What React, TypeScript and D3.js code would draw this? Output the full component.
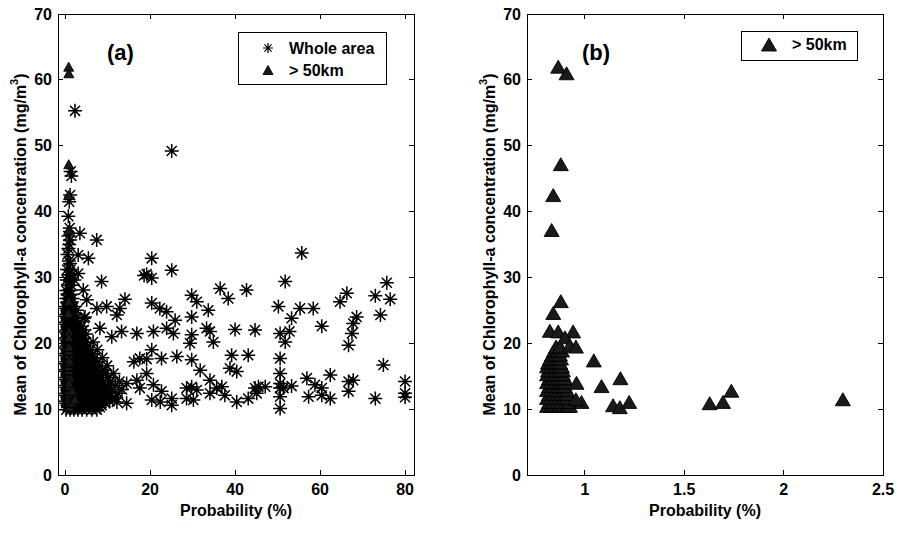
import React from 'react';
import * as d3 from 'd3';

const W = 898;
const H = 534;

// y axis (both panels)
const yTicks = [0, 10, 20, 30, 40, 50, 60, 70];
// panel (a) x axis
const xTicksA = [0, 20, 40, 60, 80];
const xTickLabelsA = ['0', '20', '40', '60', '80'];
// panel (b) x axis
const xTicksB = [1, 1.5, 2, 2.5];
const xTickLabelsB = ['1', '1.5', '2', '2.5'];

// ">50km" points (isolated)
const farX = [0.866, 0.908, 0.879, 0.841, 0.833, 0.879, 0.841, 0.824, 0.866, 0.941, 0.9, 0.925, 0.955, 1.045, 1.179, 1.084, 0.958, 0.983, 0.955, 1.142, 1.176, 1.223, 1.628, 1.695, 1.737, 2.298];
const farY = [62.0, 61.0, 47.2, 42.5, 37.2, 26.4, 24.6, 21.9, 21.8, 21.8, 20.9, 19.7, 19.5, 17.4, 14.7, 13.5, 14.0, 11.1, 11.5, 10.6, 10.3, 11.1, 10.9, 11.1, 12.8, 11.5];
// ">50km" dense cluster, rows of [y, x values]
const farClusterRows: [number, number[]][] = [
  [10.5, [0.81, 0.83, 0.85, 0.87, 0.89, 0.91, 0.925]],
  [11.1, [0.82, 0.84, 0.86, 0.88, 0.9, 0.92]],
  [11.7, [0.81, 0.83, 0.85, 0.87, 0.89, 0.91]],
  [12.3, [0.82, 0.84, 0.86, 0.88, 0.9, 0.915]],
  [12.9, [0.81, 0.83, 0.85, 0.87, 0.89, 0.91]],
  [13.5, [0.82, 0.84, 0.86, 0.88, 0.9]],
  [14.1, [0.81, 0.83, 0.85, 0.87, 0.89, 0.905]],
  [14.7, [0.82, 0.84, 0.86, 0.88, 0.9]],
  [15.3, [0.81, 0.83, 0.85, 0.87, 0.89]],
  [15.9, [0.815, 0.835, 0.855, 0.875, 0.89]],
  [16.5, [0.81, 0.83, 0.85, 0.87, 0.885]],
  [17.1, [0.815, 0.835, 0.855, 0.875]],
  [17.7, [0.825, 0.845, 0.865, 0.88]],
  [18.3, [0.835, 0.855, 0.875]],
  [18.9, [0.845, 0.865, 0.885]],
  [19.5, [0.855, 0.875]],
];

// "Whole area" isolated points [x, y]
const wholeScatter: [number, number][] = [
  [2.35, 55.3], [25.1, 49.2], [1.33, 46.1], [1.5, 45.4], [0.78, 39.3], [3.5, 36.7], [7.45, 35.7], [1.2, 35.7],
  [0.8, 34.4], [3.1, 33.4], [5.5, 32.9], [1.2, 32.1], [8.6, 29.4], [3.1, 30.6], [20.4, 32.9], [25.1, 31.1],
  [19.2, 30.5], [20.4, 29.9], [18.6, 30.3], [55.7, 33.7], [51.8, 29.4], [75.7, 29.2], [76.5, 26.7], [73.0, 27.2],
  [74.2, 24.3], [66.3, 27.6], [64.7, 26.3], [68.6, 24.0], [67.8, 23.0], [67.5, 21.5], [66.7, 19.7], [60.4, 22.6],
  [58.4, 25.3], [55.3, 25.3], [53.3, 23.8], [50.2, 25.6], [50.6, 21.5], [52.8, 21.8], [51.8, 20.2], [42.7, 28.1],
  [38.4, 26.8], [36.5, 28.3], [29.8, 27.3], [31.0, 26.3], [29.8, 24.0], [33.7, 25.0], [33.3, 22.3], [34.1, 21.8],
  [34.9, 20.2], [29.8, 21.3], [29.4, 20.0], [40.0, 22.1], [44.7, 22.0], [20.4, 26.1], [22.3, 25.3], [23.9, 24.8],
  [25.9, 23.5], [23.9, 22.3], [25.5, 21.5], [20.8, 21.8], [16.9, 21.5], [14.1, 26.7], [12.9, 25.3], [12.2, 24.3],
  [9.8, 25.6], [7.5, 25.3], [4.3, 28.1], [5.1, 26.6], [4.7, 24.0], [8.2, 22.3], [13.3, 21.8], [11.0, 21.0],
  [20.4, 19.0], [26.3, 18.0], [22.7, 17.7], [19.2, 17.6], [17.6, 17.7], [16.2, 17.2], [29.8, 17.5], [31.8, 15.9],
  [39.2, 18.2], [43.1, 18.2], [38.8, 16.2], [40.4, 15.7], [50.6, 17.7], [50.6, 15.4], [74.9, 16.7], [80.0, 14.2],
  [80.0, 12.4], [80.0, 11.8], [73.0, 11.6], [62.4, 15.2], [62.4, 11.6], [56.9, 14.7], [57.3, 11.9], [58.8, 13.7],
  [60.4, 13.2], [60.4, 12.1], [53.3, 13.5], [66.7, 14.2], [67.8, 14.4], [66.7, 12.7], [50.6, 13.9], [50.6, 13.2],
  [51.4, 13.2], [50.6, 11.9], [50.6, 10.1], [44.7, 13.2], [45.5, 13.4], [47.1, 13.4], [45.1, 12.4], [43.1, 11.6],
  [40.4, 11.1], [37.6, 12.1], [36.9, 13.4], [35.7, 13.2], [34.1, 14.4], [34.1, 12.4], [29.8, 13.4], [28.6, 13.2],
  [28.6, 11.6], [30.2, 11.4], [31.0, 12.9], [25.1, 11.6], [25.1, 10.6], [22.4, 11.1], [22.7, 12.7], [20.4, 11.4],
  [20.8, 13.7], [17.6, 13.2], [16.9, 14.4], [14.5, 10.9], [12.2, 11.1], [19.2, 15.4], [14.5, 13.9],
];

// "Whole area" dense cluster near the y axis, rows of [y, x values]
const wholeClusterRows: [number, number[]][] = [
  [9.9, [0.3, 1.2, 2.1, 3.0, 4.0, 5.1, 6.3, 7.5]],
  [10.3, [0.7, 1.6, 2.5, 3.5, 4.5, 5.6, 6.8, 8.2]],
  [10.6, [0.6, 1.6, 2.6, 3.5, 4.6, 5.8, 7.2, 8.6]],
  [10.9, [0.3, 1.2, 2.2, 3.1, 4.1, 5.2, 6.4, 7.8, 9.5]],
  [11.2, [0.2, 1.0, 2.0, 2.9, 3.9, 4.9, 6.0, 7.4, 9.1, 10.5]],
  [11.5, [0.7, 1.6, 2.5, 3.5, 4.5, 5.5, 6.8, 8.4, 11.2]],
  [11.8, [0.5, 1.4, 2.4, 3.3, 4.3, 5.4, 6.6, 8.0, 9.7, 11.8]],
  [12.1, [0.2, 1.1, 1.9, 2.8, 3.8, 4.8, 5.9, 7.3, 8.9]],
  [12.4, [0.3, 1.1, 2.0, 2.8, 3.8, 4.8, 5.9, 7.1, 8.6, 10.2, 12.5]],
  [12.7, [0.7, 1.6, 2.5, 3.4, 4.4, 5.5, 6.8, 8.2, 9.7]],
  [13.0, [0.6, 1.5, 2.4, 3.3, 4.3, 5.3, 6.5, 7.8, 9.3, 11.0, 13.4]],
  [13.3, [0.3, 1.1, 2.0, 2.9, 3.9, 4.9, 6.1, 7.4]],
  [13.6, [0.2, 1.0, 1.9, 2.8, 3.7, 4.7, 5.8, 7.0, 8.4, 10.0, 11.8]],
  [13.9, [0.7, 1.6, 2.5, 3.5, 4.5, 5.5, 6.7, 8.0]],
  [14.2, [0.5, 1.4, 2.3, 3.2, 4.2, 5.2, 6.3, 7.6, 9.0, 10.6, 12.8]],
  [14.5, [0.2, 1.0, 1.9, 2.8, 3.8, 4.8, 6.0, 7.3]],
  [14.8, [0.3, 1.1, 2.0, 2.9, 3.8, 4.8, 5.9, 7.1, 8.5, 10.1]],
  [15.1, [0.7, 1.6, 2.5, 3.5, 4.5, 5.6, 6.9]],
  [15.4, [0.6, 1.5, 2.4, 3.3, 4.3, 5.4, 6.6, 8.0, 9.6, 11.4]],
  [15.7, [0.2, 1.1, 2.0, 2.9, 3.9, 5.0, 6.2]],
  [16.0, [0.2, 1.0, 1.9, 2.8, 3.7, 4.7, 5.8, 7.2, 8.8]],
  [16.3, [0.7, 1.6, 2.5, 3.5, 4.5, 5.6]],
  [16.6, [0.5, 1.4, 2.3, 3.2, 4.2, 5.3, 6.6, 8.1, 9.9]],
  [16.9, [0.2, 1.0, 1.9, 2.8, 3.8, 4.8, 6.0]],
  [17.2, [0.3, 1.1, 2.0, 2.9, 3.9, 5.0, 6.2, 7.6]],
  [17.5, [0.7, 1.6, 2.5, 3.5, 4.6]],
  [17.8, [0.6, 1.5, 2.4, 3.4, 4.5, 5.7, 7.0, 8.8]],
  [18.1, [0.3, 1.1, 2.0, 3.0, 4.0, 5.3]],
  [18.4, [0.2, 1.0, 1.9, 2.8, 3.9, 5.1, 6.5]],
  [18.7, [0.7, 1.6, 2.6, 3.6, 4.8]],
  [19.0, [0.5, 1.4, 2.4, 3.4, 4.5, 5.9, 7.6]],
  [19.3, [0.2, 1.0, 1.9, 2.9, 4.0]],
  [19.6, [0.3, 1.1, 2.0, 3.0, 4.1, 5.4]],
  [19.9, [0.7, 1.6, 2.5, 3.5]],
  [20.2, [0.6, 1.5, 2.5, 3.6, 4.8, 6.6]],
  [20.5, [0.3, 1.1, 2.1, 3.1]],
  [20.8, [0.2, 1.0, 1.9, 2.9, 4.2]],
  [21.1, [0.7, 1.6, 2.6]],
  [21.4, [0.5, 1.4, 2.4, 3.5, 5.0]],
  [21.7, [0.2, 1.0, 1.9, 2.9]],
  [22.0, [0.3, 1.1, 2.0, 3.1, 4.4]],
  [22.3, [0.7, 1.6, 2.5]],
  [22.6, [0.6, 1.5, 2.6, 3.9]],
  [22.9, [0.3, 1.1, 2.1]],
  [23.2, [0.2, 1.0, 2.0, 3.2]],
  [23.5, [0.7, 1.6]],
  [23.8, [0.5, 1.4, 2.5, 4.5]],
  [24.1, [0.2, 1.0, 1.8]],
  [24.4, [0.3, 1.1, 2.1]],
  [24.7, [0.7, 1.5]],
  [25.0, [0.6, 1.5, 2.8]],
  [25.3, [0.3, 1.1]],
  [25.6, [0.2, 1.0, 2.0]],
  [26.2, [0.5, 1.3]],
  [26.8, [0.3, 1.0, 1.8]],
  [27.4, [0.6, 1.4]],
  [28.0, [0.3, 1.1]],
  [28.8, [0.7, 1.5]],
  [29.6, [0.4, 1.2, 2.2]],
  [30.4, [0.8, 1.6]],
  [31.2, [0.5, 1.3]],
  [32.5, [0.9]],
  [33.5, [0.6]],
  [35.0, [1.0]],
  [36.3, [0.8]],
  [37.5, [1.1]],
  [41.5, [1.0]],
  [42.5, [1.2]],
];

const FONT = '"Liberation Sans", Arial, Helvetica, sans-serif';

const rowsToPoints = (rows: [number, number[]][]) =>
  rows.flatMap(([yy, xs]) => xs.map((xx) => [xx, yy] as [number, number]));

const wholePoints: [number, number][] = [...rowsToPoints(wholeClusterRows), ...wholeScatter];
const farPoints: [number, number][] = [...rowsToPoints(farClusterRows), ...farX.map((v, i) => [v, farY[i]] as [number, number])];

function asteriskPath(r: number) {
  const d = r * 0.72;
  return `M${-r},0H${r}M0,${-r}V${r}M${-d},${-d}L${d},${d}M${-d},${d}L${d},${-d}`;
}
function trianglePath(w: number, h: number) {
  return `M0,${-h / 2}L${w / 2},${h / 2}L${-w / 2},${h / 2}Z`;
}

const TOP = 14;
const BOTTOM = 475;

type PanelProps = {
  left: number;
  right: number;
  xDomain: [number, number];
  xTicks: number[];
  xTickLabels: string[];
  tag: string;
  tagX: number;
  showWhole: boolean;
  triW: number;
  triH: number;
  legend: { x0: number; x1: number; y0: number; y1: number; markerX: number; textX: number };
};

function Panel(p: PanelProps) {
  const x = d3.scaleLinear().domain(p.xDomain).range([p.left, p.right]);
  const y = d3.scaleLinear().domain([0, 70]).range([BOTTOM, TOP]);
  const tickLen = 5;
  const ast = asteriskPath(7);
  const tri = trianglePath(p.triW, p.triH);
  const cx = (p.left + p.right) / 2;
  const cy = (TOP + BOTTOM) / 2;
  const lg = p.legend;
  const rowsY = p.showWhole ? [lg.y0 + 16, lg.y0 + 38] : [lg.y0 + 13.5];
  return (
    <g>
      {p.showWhole && (
        <g stroke="#000" strokeWidth={1.5} fill="none">
          {wholePoints.map((d, i) => (
            <path key={i} d={ast} transform={`translate(${x(d[0])},${y(d[1])})`} />
          ))}
        </g>
      )}
      <g fill="#1a1a1a" stroke="#000" strokeWidth={0.9}>
        {farPoints.map((d, i) => (
          <path key={i} d={tri} transform={`translate(${x(d[0])},${y(d[1])})`} />
        ))}
      </g>
      <rect x={p.left} y={TOP} width={p.right - p.left} height={BOTTOM - TOP} fill="none" stroke="#000" strokeWidth={1} shapeRendering="crispEdges" />
      <g stroke="#000" strokeWidth={1} shapeRendering="crispEdges">
        {yTicks.map((t) => (
          <g key={'y' + t}>
            <line x1={p.left} x2={p.left + tickLen} y1={y(t)} y2={y(t)} />
            <line x1={p.right} x2={p.right - tickLen} y1={y(t)} y2={y(t)} />
          </g>
        ))}
        {p.xTicks.map((t) => (
          <g key={'x' + t}>
            <line x1={x(t)} x2={x(t)} y1={BOTTOM} y2={BOTTOM - tickLen} />
            <line x1={x(t)} x2={x(t)} y1={TOP} y2={TOP + tickLen} />
          </g>
        ))}
      </g>
      <g fontFamily={FONT} fontWeight="bold" fontSize={16} fill="#000">
        {yTicks.map((t) => (
          <text key={'yl' + t} x={p.left - 6} y={y(t)} textAnchor="end" dominantBaseline="central">
            {t}
          </text>
        ))}
        {p.xTicks.map((t, i) => (
          <text key={'xl' + t} x={x(t)} y={495} textAnchor="middle">
            {p.xTickLabels[i]}
          </text>
        ))}
        <text x={cx} y={516} textAnchor="middle">Probability (%)</text>
        <text transform={`translate(${p.left - 38},${cy}) rotate(-90)`} textAnchor="middle" dominantBaseline="central">
          Mean of Chlorophyll-a concentration (mg/m
          <tspan fontSize={11} dy={-6}>3</tspan>
          <tspan dy={6}>)</tspan>
        </text>
        <text x={p.tagX} y={60} fontSize={22}>{p.tag}</text>
      </g>
      <rect x={lg.x0} y={lg.y0} width={lg.x1 - lg.x0} height={lg.y1 - lg.y0} fill="#fff" stroke="#000" strokeWidth={1} shapeRendering="crispEdges" />
      <g fontFamily={FONT} fontWeight="bold" fontSize={16}>
        {p.showWhole && (
          <>
            <path d={asteriskPath(5)} transform={`translate(${lg.markerX},${rowsY[0]})`} stroke="#000" strokeWidth={1.2} fill="none" />
            <text x={lg.textX} y={rowsY[0]} dominantBaseline="central">Whole area</text>
          </>
        )}
        <path d={tri} transform={`translate(${lg.markerX},${rowsY[rowsY.length - 1]})`} fill="#1a1a1a" stroke="#000" strokeWidth={0.9} />
        <text x={lg.textX} y={rowsY[rowsY.length - 1]} dominantBaseline="central">&gt; 50km</text>
      </g>
    </g>
  );
}

export default function App() {
  return (
    <svg width={W} height={H} viewBox={`0 0 ${W} ${H}`} style={{ position: 'absolute', left: 0, top: 0, background: '#fff' }}>
      <rect width={W} height={H} fill="#fff" />
      <Panel
        left={58}
        right={414}
        xDomain={[-1.65, 82.1]}
        xTicks={xTicksA}
        xTickLabels={xTickLabelsA}
        tag="(a)"
        tagX={107}
        showWhole={true}
        triW={10}
        triH={9}
        legend={{ x0: 238, x1: 386, y0: 32, y1: 84, markerX: 268, textX: 289 }}
      />
      <Panel
        left={527}
        right={883}
        xDomain={[0.709, 2.5]}
        xTicks={xTicksB}
        xTickLabels={xTickLabelsB}
        tag="(b)"
        tagX={582}
        showWhole={false}
        triW={15}
        triH={13}
        legend={{ x0: 741, x1: 857, y0: 31, y1: 60, markerX: 769, textX: 792 }}
      />
    </svg>
  );
}
